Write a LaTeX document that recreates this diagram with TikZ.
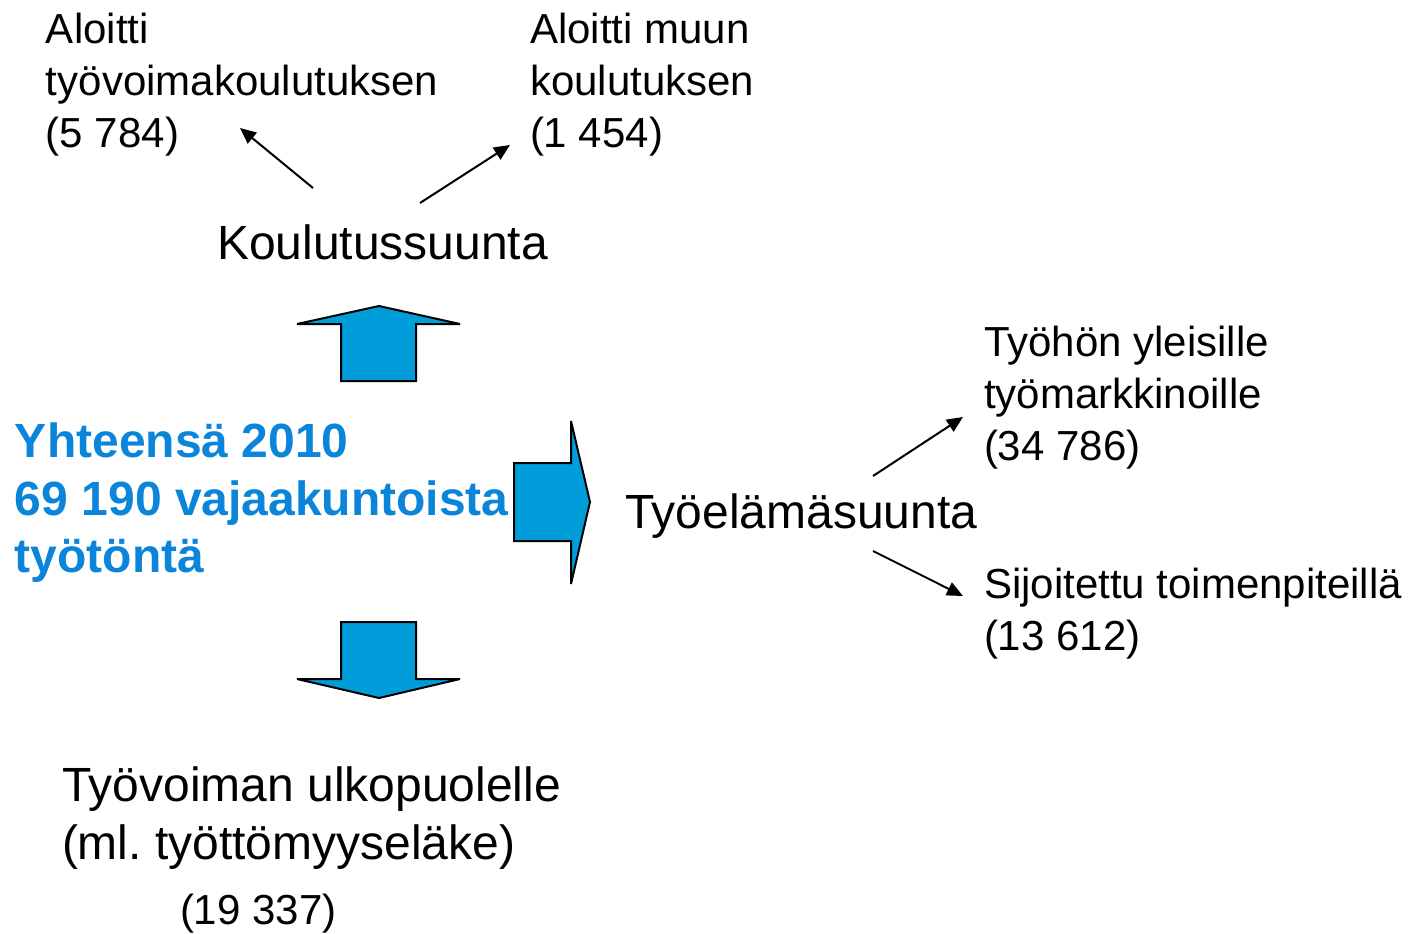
\documentclass[tikz,border=0pt]{standalone}
\usepackage{fontspec}
\setmainfont{Liberation Sans}
\usetikzlibrary{arrows.meta}
\definecolor{sumblue}{HTML}{0A85D9}
\definecolor{arrowfill}{HTML}{009DDB}

\begin{document}
\begin{tikzpicture}[x=0.5pt,y=-0.5pt,>={Triangle[length=8pt,width=7pt]},line width=1pt]
	\tikzstyle{small}=[anchor=west,inner sep=0pt,align=left,font=\fontsize{21}{26}\selectfont]
	\tikzstyle{big}=[anchor=west,inner sep=0pt,align=left,font=\fontsize{24}{29}\selectfont]
	\tikzstyle{total}=[anchor=west,inner sep=0pt,align=left,text=sumblue,font=\fontsize{24}{28.75}\selectfont\bfseries]
	\tikzstyle{blockarrow}=[fill=arrowfill,draw=black,line width=1pt,line join=miter,miter limit=3]
	\useasboundingbox (0,0) rectangle (1410,933);

	% texts
	\node[small] (tyovoimakoul) at (45,85)	{Aloitti\\työvoimakoulutuksen\\(5 784)};
	\node[small] (muukoul) at (529,85)	{Aloitti muun\\koulutuksen\\(1 454)};
	\node[big] (koulsuunta) at (216,242)	{Koulutussuunta};
	\node[total] (yhteensa) at (14,503)	{Yhteensä 2010\\69 190 vajaakuntoista\\työtöntä};
	\node[big] (tyoelama) at (624,516)	{Työelämäsuunta};
	\node[small] (yleiset) at (983,398)	{Työhön yleisille\\työmarkkinoille\\(34 786)};
	\node[small] (sijoitettu) at (983,614)	{Sijoitettu toimenpiteillä\\(13 612)};
	\node[big] (ulkopuolelle) at (61,818)	{Työvoiman ulkopuolelle\\(ml.\ työttömyyseläke)};
	\node[small] (ulkomaara) at (179,914)	{(19 337)};

	% block arrows
	\draw[blockarrow] (341,381) -- (341,324) -- (297,324) -- (379,306) -- (460,324) -- (416,324) -- (416,381) -- cycle;
	\draw[blockarrow] (341,622) -- (341,679) -- (297,679) -- (379,698) -- (460,679) -- (416,679) -- (416,622) -- cycle;
	\draw[blockarrow] (514,463) -- (571,463) -- (571,421) -- (590,502) -- (571,584) -- (571,541) -- (514,541) -- cycle;

	% thin arrows
	\coordinate (k1) at (313,188);
	\coordinate (k2) at (420,203);
	\coordinate (t1) at (873,476);
	\coordinate (t2) at (873,551);
	\coordinate (k1end) at (240,128);
	\coordinate (k2end) at (510,145);
	\coordinate (t1end) at (963,417);
	\coordinate (t2end) at (963,596);
	\draw[->] (k1) -- (k1end);
	\draw[->] (k2) -- (k2end);
	\draw[->] (t1) -- (t1end);
	\draw[->] (t2) -- (t2end);
\end{tikzpicture}
\end{document}
